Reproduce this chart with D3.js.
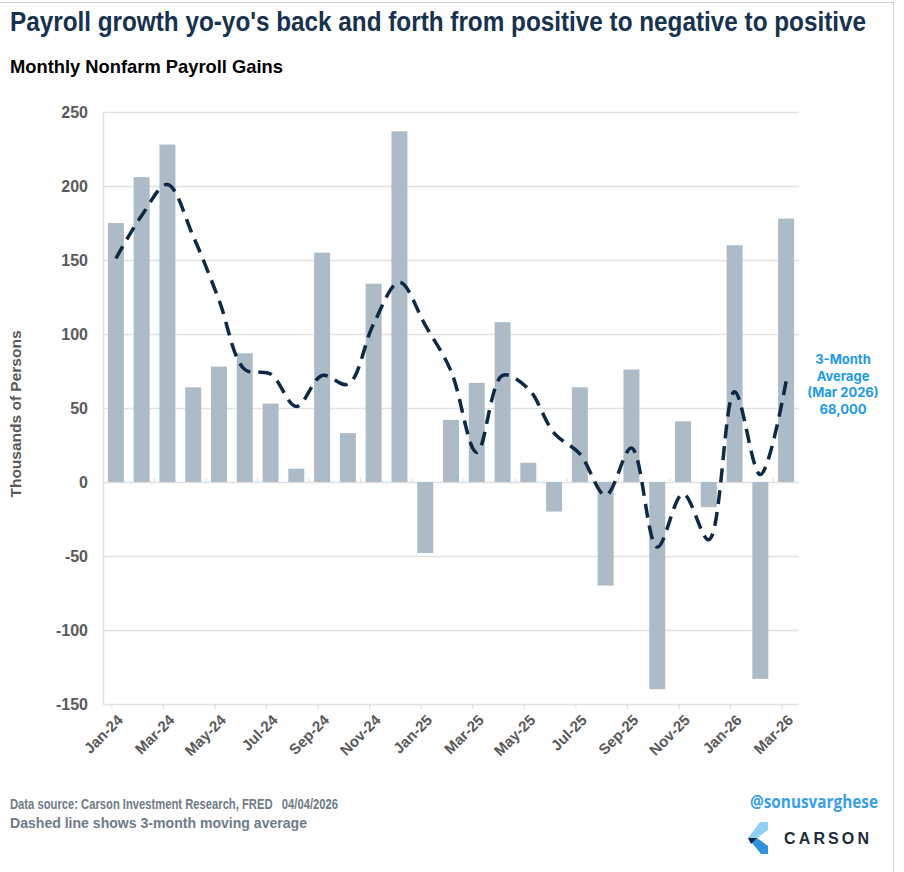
<!DOCTYPE html>
<html>
<head>
<meta charset="utf-8">
<script src="https://cdn.jsdelivr.net/npm/d3@7"></script>
<style>
  body { margin: 0; background: #fff; }
  svg { display: block; }
  text { font-family: "Liberation Sans", Arial, sans-serif; white-space: pre; }
</style>
</head>
<body>
<script>
// months shown on the x axis
var months = ["Jan-24","Feb-24","Mar-24","Apr-24","May-24","Jun-24","Jul-24","Aug-24","Sep-24",
              "Oct-24","Nov-24","Dec-24","Jan-25","Feb-25","Mar-25","Apr-25","May-25","Jun-25",
              "Jul-25","Aug-25","Sep-25","Oct-25","Nov-25","Dec-25","Jan-26","Feb-26","Mar-26"];

// monthly payroll gains (thousands)
var payrollGains = [175, 206, 228, 64, 78, 87, 53, 9, 155, 33, 134, 237, -48, 42, 67, 108,
                    13, -20, 64, -70, 76, -140, 41, -17, 160, -133, 178];

// 3-month moving average (dashed line)
var movingAvg = [151, 180, 201, 166, 123, 76, 73, 51, 72, 66, 107, 135, 106, 75, 20, 72,
                 63, 33, 19, -9, 23, -44, -8, -39, 61, 5, 68];

var yTicks = [-150, -100, -50, 0, 50, 100, 150, 200, 250];
var xTickLabels = ["Jan-24","Mar-24","May-24","Jul-24","Sep-24","Nov-24","Jan-25",
                   "Mar-25","May-25","Jul-25","Sep-25","Nov-25","Jan-26","Mar-26"];
var noteLines = ["3-Month", "Average", "(Mar 2026)", "68,000"];

function init() {
    var w = 904, h = 872;

    var svg = d3.select("body").append("svg")
                .attr("width", w)
                .attr("height", h);

    svg.append("rect").attr("width", w).attr("height", h).attr("fill", "#fff");

    // outer frame
    svg.append("line").attr("x1", 0).attr("x2", 893).attr("y1", 2.5).attr("y2", 2.5)
       .attr("stroke", "#d2d2d2");
    svg.append("line").attr("x1", 893.5).attr("x2", 893.5).attr("y1", 2).attr("y2", h)
       .attr("stroke", "#d2d2d2");

    // titles (slightly stretched vertically, like the narrow original font)
    svg.append("text")
       .attr("transform", "translate(10,31) scale(1,1.1)")
       .attr("textLength", 856).attr("lengthAdjust", "spacingAndGlyphs")
       .style("font-size", "25px").style("font-weight", "bold").attr("fill", "#17324f")
       .text("Payroll growth yo-yo's back and forth from positive to negative to positive");

    svg.append("text")
       .attr("x", 10).attr("y", 73)
       .attr("textLength", 273).attr("lengthAdjust", "spacingAndGlyphs")
       .style("font-size", "19px").style("font-weight", "bold").attr("fill", "#000")
       .text("Monthly Nonfarm Payroll Gains");

    // scales
    var x = d3.scaleBand()
              .domain(months)
              .range([103, 799])
              .paddingInner(0.38)
              .paddingOuter(0.19);

    var y = d3.scaleLinear()
              .domain([-150, 250])
              .range([704, 112]);

    // gridlines
    svg.append("g").selectAll("line")
       .data(yTicks)
       .enter().append("line")
       .attr("x1", 103).attr("x2", 799)
       .attr("y1", d => Math.round(y(d)) + 0.5)
       .attr("y2", d => Math.round(y(d)) + 0.5)
       .attr("stroke", "#e2e2e2")
       .attr("stroke-width", 1.5);

    svg.append("line")
       .attr("x1", 103.5).attr("x2", 103.5)
       .attr("y1", y(250)).attr("y2", y(-150))
       .attr("stroke", "#e2e2e2").attr("stroke-width", 1.5);

    // small ticks on zero line (every second month boundary)
    var step = x.step();
    svg.append("g").selectAll("line")
       .data(d3.range(2, months.length, 2))
       .enter().append("line")
       .attr("x1", i => 103 + i * step).attr("x2", i => 103 + i * step)
       .attr("y1", y(0) - 4).attr("y2", y(0))
       .attr("stroke", "#dcdcdc");

    // small ticks under the bottom line at labelled months
    svg.append("g").selectAll("line")
       .data(xTickLabels)
       .enter().append("line")
       .attr("x1", d => x(d) + x.bandwidth() / 2 - 4)
       .attr("x2", d => x(d) + x.bandwidth() / 2 - 4)
       .attr("y1", y(-150)).attr("y2", y(-150) + 5)
       .attr("stroke", "#dcdcdc");

    // y tick labels
    svg.append("g").selectAll("text")
       .data(yTicks)
       .enter().append("text")
       .attr("x", 88)
       .attr("y", d => y(d) + 6)
       .attr("text-anchor", "end")
       .style("font-size", "16px").style("font-weight", "bold")
       .attr("fill", "#595959")
       .text(d => d);

    // x tick labels, rotated
    svg.append("g").selectAll("text")
       .data(xTickLabels)
       .enter().append("text")
       .attr("transform", d => "translate(" + (x(d) + x.bandwidth() / 2 + 8) + ",721) rotate(-45)")
       .attr("text-anchor", "end")
       .style("font-size", "15px").style("font-weight", "bold")
       .attr("fill", "#595959")
       .text(d => d);

    // y axis title
    svg.append("text")
       .attr("transform", "translate(21,414) rotate(-90)")
       .attr("text-anchor", "middle")
       .style("font-size", "15.5px").style("font-weight", "bold")
       .attr("fill", "#595959")
       .text("Thousands of Persons");

    // bars
    svg.append("g").selectAll("rect")
       .data(payrollGains)
       .enter().append("rect")
       .attr("x", (d, i) => x(months[i]))
       .attr("width", x.bandwidth())
       .attr("y", d => y(Math.max(0, d)))
       .attr("height", d => Math.abs(y(d) - y(0)))
       .attr("fill", "#adbbc6");

    // moving average line
    var line = d3.line()
                 .x((d, i) => x(months[i]) + x.bandwidth() / 2)
                 .y(d => y(d))
                 .curve(d3.curveCatmullRom.alpha(0.5));

    svg.append("path")
       .datum(movingAvg)
       .attr("d", line)
       .attr("fill", "none")
       .attr("stroke", "#0d2944")
       .attr("stroke-width", 3.5)
       .attr("stroke-dasharray", "14,8");

    // note on the right
    svg.append("g").selectAll("text")
       .data(noteLines)
       .enter().append("text")
       .attr("x", 843)
       .attr("y", (d, i) => 364 + i * 16.7)
       .attr("text-anchor", "middle")
       .style("font-family", "Inter, Roboto, sans-serif")
       .style("font-size", "13px").style("font-weight", "bold")
       .attr("fill", "#1e9ae6")
       .text(d => d);

    // footer
    svg.append("text")
       .attr("x", 10).attr("y", 809)
       .attr("textLength", 328).attr("lengthAdjust", "spacingAndGlyphs")
       .style("font-size", "15.5px").style("font-weight", "bold")
       .attr("fill", "#6f7b87")
       .text("Data source: Carson Investment Research, FRED   04/04/2026");

    svg.append("text")
       .attr("x", 10).attr("y", 828)
       .attr("textLength", 297).attr("lengthAdjust", "spacingAndGlyphs")
       .style("font-size", "15.5px").style("font-weight", "bold")
       .attr("fill", "#6f7b87")
       .text("Dashed line shows 3-month moving average");

    svg.append("text")
       .attr("x", 750).attr("y", 808)
       .attr("textLength", 128).attr("lengthAdjust", "spacingAndGlyphs")
       .style("font-family", "'Open Sans', sans-serif")
       .style("font-size", "17px").style("font-weight", "bold")
       .attr("fill", "#3a9fe6")
       .text("@sonusvarghese");

    // Carson logo
    var logo = svg.append("g");
    logo.append("polygon").attr("points", "760,822 768,822 768,830 757,838 748,838").attr("fill", "#8fd0f4");
    logo.append("polygon").attr("points", "748,838 757,838 768,846 768,854 761,854").attr("fill", "#2f92dc");
    logo.append("polygon").attr("points", "748,838 757,838 751,844").attr("fill", "#0f2a45");

    svg.append("text")
       .attr("x", 784).attr("y", 844)
       .attr("textLength", 85).attr("lengthAdjust", "spacing")
       .style("font-size", "16px").style("font-weight", "bold")
       .attr("fill", "#1c2a3a")
       .text("CARSON");
}

window.onload = init;
</script>
</body>
</html>
